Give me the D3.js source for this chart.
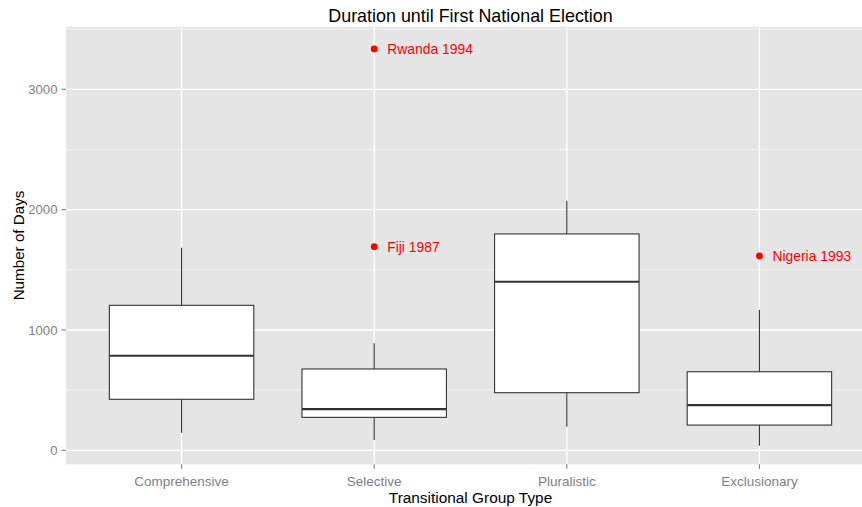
<!DOCTYPE html>
<html>
<head>
<meta charset="utf-8">
<script src="https://cdn.jsdelivr.net/npm/d3@7"></script>
<style>
  html, body { margin: 0; padding: 0; background: #ffffff; }
  svg { display: block; font-family: "Liberation Sans", Arial, sans-serif; }
</style>
</head>
<body>
<svg id="chart" width="862" height="507"></svg>
<script>
// Transitional group types along the x axis
const categories = ["Comprehensive", "Selective", "Pluralistic", "Exclusionary"];

// Box summaries (days): lower whisker, Q1, median, Q3, upper whisker
const whiskerLow  = [146, 86, 196, 38];
const quartile1   = [424, 274, 479, 210];
const medians     = [786, 343, 1401, 376];
const quartile3   = [1205, 676, 1798, 653];
const whiskerHigh = [1684, 889, 2074, 1166];

// Labelled outlying cases
const outlierGroup = ["Selective", "Selective", "Exclusionary"];
const outlierDays  = [3335, 1692, 1615];
const outlierLabel = ["Rwanda 1994", "Fiji 1987", "Nigeria 1993"];

// Axis ticks
const majorTicks = [0, 1000, 2000, 3000];
const minorTicks = [500, 1500, 2500, 3500];

const svg = d3.select("#chart");
const panel = { left: 66, right: 875, top: 26.7, bottom: 464.3 };

const x = d3.scalePoint()
  .domain(categories)
  .range([panel.left, panel.right])
  .padding(0.6);

const y = d3.scaleLinear()
  .domain([-116, 3520])
  .range([panel.bottom, panel.top]);

const boxHalf = x.step() * 0.375;

// Panel background
svg.append("rect")
  .attr("x", panel.left).attr("y", panel.top)
  .attr("width", panel.right - panel.left)
  .attr("height", panel.bottom - panel.top)
  .attr("fill", "#e5e5e5");

// Grid
const grid = svg.append("g");
grid.selectAll("line.minor").data(minorTicks).join("line")
  .attr("class", "minor")
  .attr("x1", panel.left).attr("x2", panel.right)
  .attr("y1", d => y(d)).attr("y2", d => y(d))
  .attr("stroke", "#f2f2f2").attr("stroke-width", 1);
grid.selectAll("line.majorY").data(majorTicks).join("line")
  .attr("class", "majorY")
  .attr("x1", panel.left).attr("x2", panel.right)
  .attr("y1", d => y(d)).attr("y2", d => y(d))
  .attr("stroke", "#ffffff").attr("stroke-width", 1.3);
grid.selectAll("line.majorX").data(categories).join("line")
  .attr("class", "majorX")
  .attr("x1", d => x(d)).attr("x2", d => x(d))
  .attr("y1", panel.top).attr("y2", panel.bottom)
  .attr("stroke", "#ffffff").attr("stroke-width", 1.3);

// Boxplots
const boxes = categories.map((c, i) => ({
  cat: c, lo: whiskerLow[i], q1: quartile1[i], med: medians[i], q3: quartile3[i], hi: whiskerHigh[i]
}));
const bg = svg.append("g").selectAll("g").data(boxes).join("g");
bg.append("line")
  .attr("x1", d => x(d.cat)).attr("x2", d => x(d.cat))
  .attr("y1", d => y(d.hi)).attr("y2", d => y(d.q3))
  .attr("stroke", "#333333").attr("stroke-width", 1.1);
bg.append("line")
  .attr("x1", d => x(d.cat)).attr("x2", d => x(d.cat))
  .attr("y1", d => y(d.q1)).attr("y2", d => y(d.lo))
  .attr("stroke", "#333333").attr("stroke-width", 1.1);
bg.append("rect")
  .attr("x", d => x(d.cat) - boxHalf)
  .attr("y", d => y(d.q3))
  .attr("width", boxHalf * 2)
  .attr("height", d => y(d.q1) - y(d.q3))
  .attr("fill", "#ffffff").attr("stroke", "#333333").attr("stroke-width", 1.1);
bg.append("line")
  .attr("x1", d => x(d.cat) - boxHalf).attr("x2", d => x(d.cat) + boxHalf)
  .attr("y1", d => y(d.med)).attr("y2", d => y(d.med))
  .attr("stroke", "#333333").attr("stroke-width", 2.2);

// Outlying cases with labels
const outliers = outlierDays.map((v, i) => ({ cat: outlierGroup[i], v, label: outlierLabel[i] }));
const og = svg.append("g");
og.selectAll("circle").data(outliers).join("circle")
  .attr("cx", d => x(d.cat)).attr("cy", d => y(d.v))
  .attr("r", 3.4).attr("fill", "#ff0000");
og.selectAll("text").data(outliers).join("text")
  .attr("x", d => x(d.cat) + 13).attr("y", d => y(d.v))
  .attr("dy", "0.35em")
  .attr("fill", "#ff0000")
  .attr("font-size", "13.9px")
  .text(d => d.label);

// Y axis ticks and labels
const ya = svg.append("g");
ya.selectAll("line").data(majorTicks).join("line")
  .attr("x1", panel.left - 4.5).attr("x2", panel.left)
  .attr("y1", d => y(d)).attr("y2", d => y(d))
  .attr("stroke", "#7f7f7f").attr("stroke-width", 1.1);
ya.selectAll("text").data(majorTicks).join("text")
  .attr("x", panel.left - 8.5).attr("y", d => y(d))
  .attr("dy", "0.35em")
  .attr("text-anchor", "end")
  .attr("fill", "#7f7f7f")
  .attr("font-size", "13.2px")
  .text(d => d);

// X axis ticks and labels
const xa = svg.append("g");
xa.selectAll("line").data(categories).join("line")
  .attr("x1", d => x(d)).attr("x2", d => x(d))
  .attr("y1", panel.bottom).attr("y2", panel.bottom + 4.5)
  .attr("stroke", "#7f7f7f").attr("stroke-width", 1.1);
xa.selectAll("text").data(categories).join("text")
  .attr("x", d => x(d)).attr("y", 485.7)
  .attr("text-anchor", "middle")
  .attr("fill", "#7f7f7f")
  .attr("font-size", "13.5px")
  .text(d => d);

// Titles
svg.append("text")
  .attr("x", (panel.left + panel.right) / 2).attr("y", 21.5)
  .attr("text-anchor", "middle")
  .attr("font-size", "17.9px")
  .attr("fill", "#000000")
  .text("Duration until First National Election");

svg.append("text")
  .attr("x", (panel.left + panel.right) / 2).attr("y", 503)
  .attr("text-anchor", "middle")
  .attr("font-size", "15.4px")
  .attr("fill", "#000000")
  .text("Transitional Group Type");

svg.append("text")
  .attr("transform", `translate(23.5, ${(panel.top + panel.bottom) / 2}) rotate(-90)`)
  .attr("text-anchor", "middle")
  .attr("font-size", "15.2px")
  .attr("fill", "#000000")
  .text("Number of Days");
</script>
</body>
</html>
